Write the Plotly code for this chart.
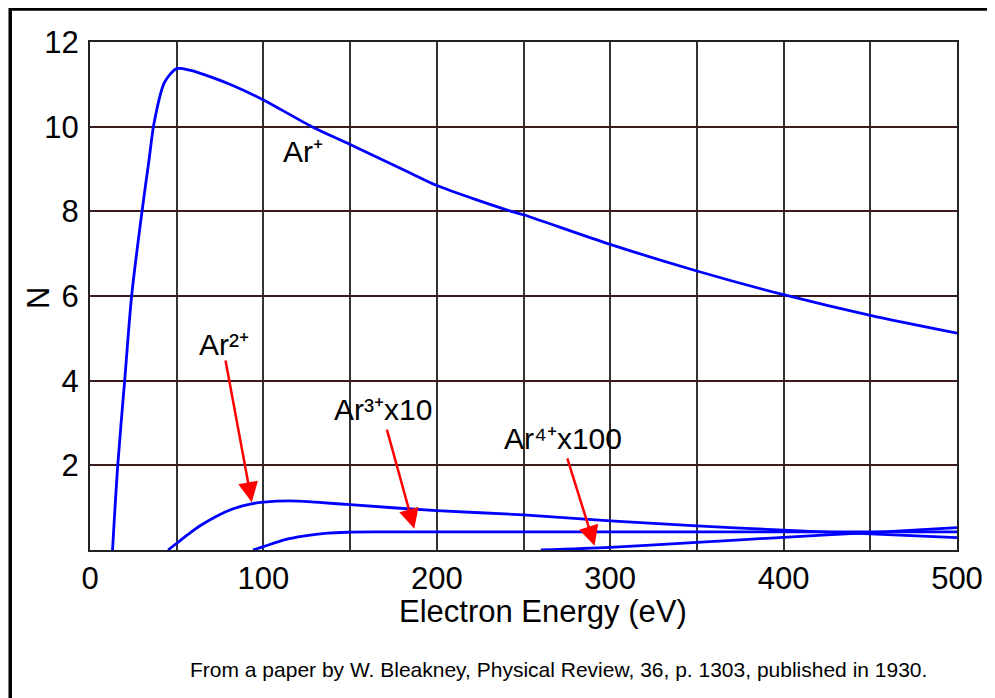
import plotly.graph_objects as go

# electron energy (eV) and ion counts N
ar1_energy = [13, 16, 20, 24, 30, 34, 37, 43, 50, 58, 70, 83, 100, 128, 150, 185, 200, 243, 250, 300, 350, 400, 450, 500]
ar1_n = [0, 2, 4, 6, 8, 9.2, 10.1, 11.05, 11.37, 11.33, 11.17, 10.96, 10.63, 10.0, 9.58, 8.9, 8.61, 8.0, 7.92, 7.22, 6.59, 6.03, 5.54, 5.12]

ar2_energy = [45, 50, 56, 63, 73, 83, 93, 100, 115, 130, 150, 200, 250, 300, 350, 400, 450, 500]
ar2_n = [0, 0.16, 0.35, 0.56, 0.8, 0.98, 1.09, 1.13, 1.16, 1.13, 1.07, 0.93, 0.83, 0.69, 0.57, 0.47, 0.38, 0.29]

ar3_energy = [94, 100, 113, 123, 137, 150, 175, 200, 300, 400, 500]
ar3_n = [0, 0.08, 0.25, 0.33, 0.40, 0.42, 0.43, 0.43, 0.43, 0.43, 0.43]

ar4_energy = [260, 300, 350, 400, 450, 500]
ar4_n = [0, 0.06, 0.18, 0.30, 0.41, 0.53]

x_ticks = [0, 100, 200, 300, 400, 500]
y_ticks = [2, 4, 6, 8, 10, 12]

# label text, label position, arrow tip, arrow tail (data units)
labels = [
    ("Ar⁺", 123, 9.41, None, None),
    ("Ar²⁺", 77, 4.86, (93.3, 1.13), (78, 4.51)),
    ("Ar³⁺x10", 169, 3.32, (187, 0.5), (171, 2.88)),
    ("Ar⁴⁺x100", 273, 2.63, (291, 0.1), (275, 2.2)),
]

FONT = "Liberation Sans, Arial, sans-serif"

fig = go.Figure()

for xs, ys in [(ar1_energy, ar1_n), (ar2_energy, ar2_n), (ar3_energy, ar3_n), (ar4_energy, ar4_n)]:
    fig.add_trace(go.Scatter(
        x=xs, y=ys, mode="lines",
        line=dict(color="#0000ff", width=2.8, shape="spline", smoothing=0.8),
        showlegend=False, hoverinfo="skip",
    ))

for text, tx, ty, tip, tail in labels:
    fig.add_annotation(x=tx, y=ty, text=text, showarrow=False,
                       xanchor="center", yanchor="middle",
                       font=dict(size=30, color="black", family=FONT))
    if tip is not None:
        fig.add_annotation(
            x=tip[0], y=tip[1], ax=tail[0], ay=tail[1], axref="x", ayref="y",
            text="", showarrow=True, arrowhead=2, arrowsize=1.6,
            arrowwidth=2.5, arrowcolor="#ff0000", standoff=0,
        )

# axis titles and footer
fig.add_annotation(x=0.523, y=-0.122, xref="paper", yref="paper", text="Electron Energy (eV)",
                   xanchor="center", yanchor="middle",
                   showarrow=False, font=dict(size=31, color="black", family=FONT))
fig.add_annotation(x=-0.06, y=0.496, xref="paper", yref="paper", text="N", textangle=-90,
                   xanchor="center", yanchor="middle",
                   showarrow=False, font=dict(size=31, color="black", family=FONT))
fig.add_annotation(x=0.540, y=-0.236, xref="paper", yref="paper",
                   text="From a paper by W. Bleakney, Physical Review, 36, p. 1303, published in 1930.",
                   xanchor="center", yanchor="middle",
                   showarrow=False, font=dict(size=21, color="black", family=FONT))

# outer frame
fig.add_shape(type="rect", xref="paper", yref="paper", x0=-0.092, x1=1.2, y0=-0.5, y1=1.065,
              line=dict(color="black", width=3.5))

# page body keeps an 8px margin, so the figure is 8px smaller and shifted
fig.update_layout(
    width=987, height=690,
    margin=dict(l=82, r=35, t=34, b=148),
    paper_bgcolor="white", plot_bgcolor="white",
    font=dict(family=FONT, color="black"),
    xaxis=dict(
        range=[0, 500], tickvals=x_ticks, showgrid=True, gridcolor="#333333", gridwidth=1.5,
        minor=dict(dtick=50, tick0=0, showgrid=True, gridcolor="#333333", gridwidth=1.5),
        showline=True, linecolor="#222222", linewidth=2, mirror=True,
        tickfont=dict(size=31), ticks="", ticklabelstandoff=0, zeroline=False,
    ),
    yaxis=dict(
        range=[0, 12], tickvals=y_ticks, showgrid=True, gridcolor="#3a1c1c", gridwidth=1.5,
        showline=True, linecolor="#222222", linewidth=2, mirror=True,
        tickfont=dict(size=31), ticks="", ticklabelstandoff=3, zeroline=False,
    ),
)

fig.write_html("out.html")
